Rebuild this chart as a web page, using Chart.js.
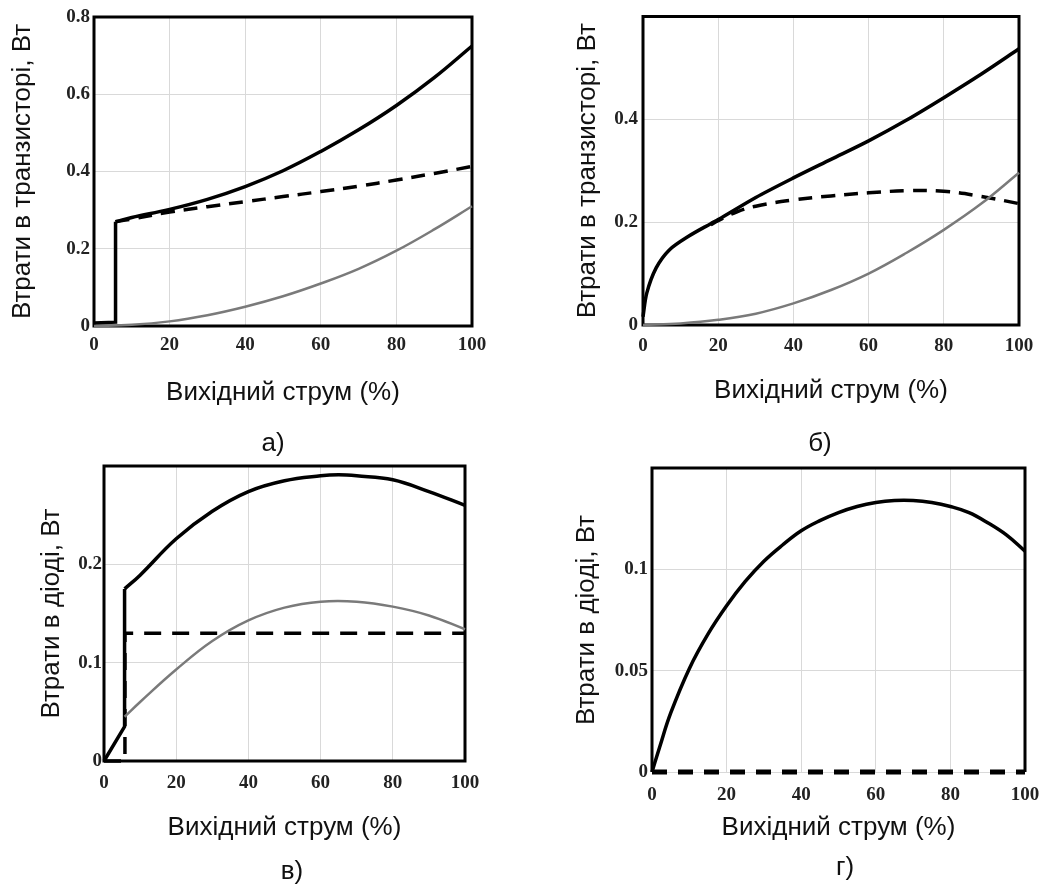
<!DOCTYPE html>
<html lang="uk">
<head>
<meta charset="utf-8">
<script src="https://cdn.jsdelivr.net/npm/chart.js@4/dist/chart.umd.min.js"></script>
<style>
  body { margin: 0; background: #fff; width: 1053px; height: 884px; position: relative; overflow: hidden; }
  canvas { position: absolute; }
  .cap { position: absolute; font: 26px "Liberation Sans", Arial, sans-serif; color: #111; transform: translate(-50%, -50%); }
</style>
</head>
<body>
<canvas id="grA" width="526" height="430" style="left:0;top:0"></canvas>
<canvas id="grB" width="527" height="430" style="left:526px;top:0"></canvas>
<canvas id="grC" width="526" height="454" style="left:0;top:430px"></canvas>
<canvas id="grD" width="527" height="454" style="left:526px;top:430px"></canvas>
<div class="cap" style="left:273px;top:442px">а)</div>
<div class="cap" style="left:820px;top:442px">б)</div>
<div class="cap" style="left:292px;top:870px">в)</div>
<div class="cap" style="left:845px;top:866px">г)</div>
<script>
// а) transistor losses: step at switch-on, then the curves
const aStepX = [0, 5.7, 5.7];
const aStepY = [0.008, 0.01, 0.27];
const aTotalX = [5.7, 10, 20, 30, 40, 50, 60, 70, 80, 90, 100];
const aTotalY = [0.27, 0.281, 0.302, 0.328, 0.361, 0.402, 0.452, 0.508, 0.571, 0.643, 0.725];
const aDashX = [5.7, 10, 20, 30, 40, 50, 60, 70, 80, 90, 100];
const aDashY = [0.27, 0.277, 0.295, 0.309, 0.322, 0.335, 0.348, 0.362, 0.378, 0.395, 0.413];
const aGrayX = [0, 10, 20, 30, 40, 50, 60, 70, 80, 90, 100];
const aGrayY = [0, 0.003, 0.012, 0.028, 0.05, 0.077, 0.11, 0.148, 0.195, 0.25, 0.31];

// б) transistor losses
const bTotalX = [0, 1, 3.5, 7, 12, 18, 20, 30, 40, 50, 60, 70, 80, 90, 100];
const bTotalY = [0.016, 0.062, 0.111, 0.146, 0.172, 0.197, 0.205, 0.248, 0.286, 0.322, 0.358, 0.398, 0.442, 0.488, 0.537];
const bDashX = [18, 20, 25, 30, 40, 50, 60, 70, 80, 90, 100];
const bDashY = [0.195, 0.203, 0.22, 0.231, 0.243, 0.251, 0.257, 0.261, 0.26, 0.25, 0.236];
const bGrayX = [0, 10, 20, 30, 40, 50, 60, 70, 80, 90, 100];
const bGrayY = [0, 0.003, 0.01, 0.022, 0.042, 0.068, 0.1, 0.14, 0.185, 0.236, 0.296];

// в) diode losses
const cStepX = [0, 5.7, 5.7];
const cStepY = [0, 0.035, 0.175];
const cTotalX = [5.7, 10, 20, 30, 40, 50, 60, 65, 70, 80, 90, 100];
const cTotalY = [0.175, 0.189, 0.226, 0.254, 0.274, 0.285, 0.29, 0.291, 0.29, 0.286, 0.274, 0.26];
const cGrayX = [5.7, 10, 20, 30, 40, 50, 60, 70, 80, 90, 100];
const cGrayY = [0.045, 0.06, 0.093, 0.122, 0.143, 0.156, 0.162, 0.162, 0.157, 0.148, 0.134];
const cDashX = [0, 5.8, 5.8, 100];
const cDashY = [0, 0, 0.13, 0.13];

// г) diode losses
const dTotalX = [0, 2, 5, 10, 15, 20, 25, 30, 35, 40, 45, 50, 55, 60, 65, 70, 75, 80, 85, 90, 95, 100];
const dTotalY = [0, 0.012, 0.029, 0.051, 0.068, 0.082, 0.094, 0.104, 0.112, 0.119, 0.124, 0.128, 0.131, 0.133, 0.134, 0.134, 0.133, 0.131, 0.128, 0.123, 0.117, 0.109];
const dDashX = [0, 100];
const dDashY = [0, 0];

const xTicks = [0, 20, 40, 60, 80, 100];
const xTitle = 'Вихідний струм (%)';
const yTitleTr = 'Втрати в транзисторі, Вт';
const yTitleDi = 'Втрати в діоді, Вт';

const sansFont = '"Liberation Sans", Arial, sans-serif';
const serifFont = '"Liberation Serif", "Times New Roman", serif';

function pts(xs, ys) {
  return xs.map((x, i) => ({ x: x, y: ys[i] }));
}

// black frame around the plot area
const ramka = {
  id: 'ramka',
  beforeDatasetsDraw(chart, args, opts) {
    const { ctx, chartArea: a } = chart;
    ctx.save();
    ctx.strokeStyle = '#000';
    ctx.lineWidth = 3;
    ctx.beginPath();
    if (opts.noBottom) {
      ctx.moveTo(a.left, a.bottom);
      ctx.lineTo(a.left, a.top);
      ctx.lineTo(a.right, a.top);
      ctx.lineTo(a.right, a.bottom);
    } else {
      ctx.rect(a.left, a.top, a.right - a.left, a.bottom - a.top);
    }
    ctx.stroke();
    ctx.restore();
  }
};

function line(data, color, width, dash, tension) {
  return {
    data: data, borderColor: color, borderWidth: width, borderDash: dash || [],
    pointRadius: 0, tension: tension, clip: 8
  };
}
const solid = (d, t = 0.4) => line(d, '#000', 3.5, null, t);
const dashed = (d, dash, w = 3.5, t = 0.4) => line(d, '#000', w, dash, t);
const gray = (d, t = 0.4) => line(d, '#7a7a7a', 2.5, null, t);

function panel(id, p) {
  new Chart(document.getElementById(id), {
    type: 'line',
    data: { datasets: p.datasets },
    options: {
      responsive: false,
      animation: false,
      events: [],
      layout: { padding: { left: 0, top: p.top, right: p.right, bottom: 0 } },
      plugins: { legend: { display: false }, tooltip: { enabled: false }, ramka: { noBottom: !!p.noBottom } },
      scales: {
        x: {
          type: 'linear', min: 0, max: 100,
          afterBuildTicks: s => { s.ticks = xTicks.map(v => ({ value: v })); },
          afterFit: s => { s.height = p.xh; },
          grid: { color: '#d9d9d9', drawTicks: false },
          border: { display: false },
          ticks: { padding: p.xtp, color: '#222', font: { family: serifFont, size: 19, weight: 'bold' } },
          title: { display: true, text: xTitle, color: '#111', padding: { top: 0, bottom: p.xtb }, font: { family: sansFont, size: 26 } }
        },
        y: {
          min: 0, max: p.ymax,
          ticks: {
            stepSize: p.ystep, padding: p.ytp, color: '#222',
            font: { family: serifFont, size: 19, weight: 'bold' },
            callback: v => (p.hideTop && Math.abs(v - p.ymax) < 1e-9) ? '' : String(+v.toFixed(2))
          },
          afterFit: s => { s.width = p.yw; },
          grid: { color: '#d9d9d9', drawTicks: false },
          border: { display: false },
          title: { display: true, text: p.ytitle, color: '#111', padding: { top: p.ytt, bottom: 0 }, font: { family: sansFont, size: 26 } }
        }
      }
    },
    plugins: [ramka]
  });
}

panel('grA', {
  datasets: [
    gray(pts(aGrayX, aGrayY)),
    dashed(pts(aDashX, aDashY), [14, 9]),
    solid(pts(aStepX, aStepY), 0),
    solid(pts(aTotalX, aTotalY))
  ],
  ymax: 0.8, ystep: 0.2, hideTop: false, ytitle: yTitleTr,
  top: 17, right: 54, yw: 94, xh: 104, ytp: 4, xtp: 8, xtb: 22, ytt: 7
});

panel('grB', {
  datasets: [
    gray(pts(bGrayX, bGrayY)),
    dashed(pts(bDashX, bDashY), [14, 9]),
    solid(pts(bTotalX, bTotalY), 0.3)
  ],
  ymax: 0.6, ystep: 0.2, hideTop: true, ytitle: yTitleTr,
  top: 15, right: 34, yw: 117, xh: 105, ytp: 5, xtp: 10, xtb: 24, ytt: 46
});

panel('grC', {
  datasets: [
    gray(pts(cGrayX, cGrayY)),
    dashed(pts(cDashX, cDashY), [17, 11], 3.5, 0),
    solid(pts(cStepX, cStepY), 0),
    solid(pts(cTotalX, cTotalY))
  ],
  ymax: 0.3, ystep: 0.1, hideTop: true, ytitle: yTitleDi,
  top: 36, right: 61, yw: 104, xh: 123, ytp: 2, xtp: 11, xtb: 41, ytt: 36
});

panel('grD', {
  datasets: [
    dashed(pts(dDashX, dDashY), [15, 11], 5, 0),
    solid(pts(dTotalX, dTotalY))
  ],
  ymax: 0.15, ystep: 0.05, hideTop: true, ytitle: yTitleDi, noBottom: true,
  top: 38, right: 28, yw: 126, xh: 112, ytp: 4, xtp: 12, xtb: 41, ytt: 45
});
</script>
</body>
</html>
